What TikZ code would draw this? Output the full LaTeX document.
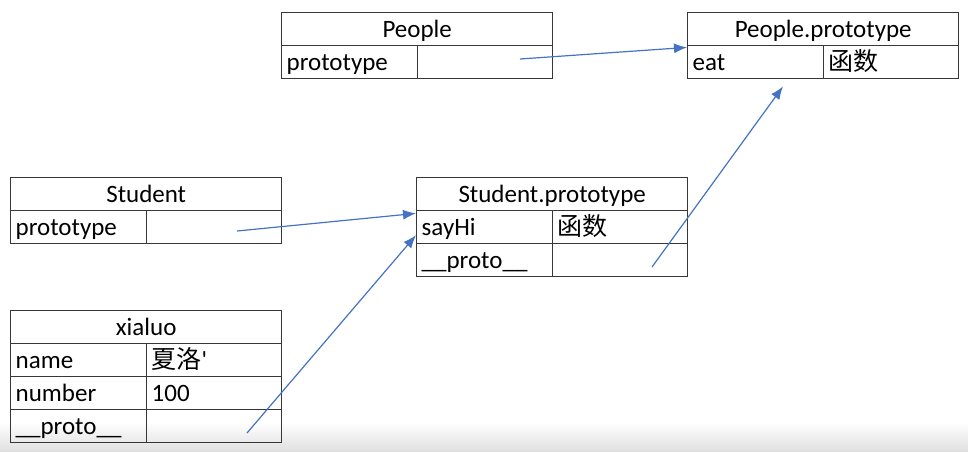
\documentclass[tikz,border=0pt]{standalone}
\usepackage{fontspec}
\setmainfont{Carlito}
\newfontfamily\cjk{Noto Sans CJK SC}
\usetikzlibrary{arrows.meta}
\definecolor{linegray}{RGB}{55,55,55}
\definecolor{ptrblue}{RGB}{68,114,196}
\begin{document}
\begin{tikzpicture}[x=1pt,y=-1pt,
	cell/.style={draw=linegray,line width=1.4pt,anchor=north west,minimum height=33pt,
		inner xsep=5pt,inner ysep=0pt,text height=19pt,text depth=3pt,
		font=\fontsize{25}{29}\selectfont},
	hdr/.style={cell,minimum width=271pt},
	key/.style={cell,text width=126pt,align=left},
	val/.style={cell,text width=125pt,align=left},
	ptr/.style={ptrblue,line width=1.2pt,-{Latex[length=13pt,width=10pt]}}]
\useasboundingbox (0,0) rectangle (968,451);
\shade[top color=white,bottom color=black!12] (0,422) rectangle (968,451);
% People
\node[hdr] (phdr) at (281,12) {People};
\node[key] (pk1) at (281,45) {prototype};
\node[val] (pv1) at (417,45) {};
% People.prototype
\node[hdr] (pphdr) at (687,12) {People.prototype};
\node[key] (ppk1) at (687,45) {eat};
\node[val] (ppv1) at (823,45) {\cjk 函数};
% Student
\node[hdr] (shdr) at (10,177) {Student};
\node[key] (sk1) at (10,210) {prototype};
\node[val] (sv1) at (146,210) {};
% Student.prototype
\node[hdr] (sphdr) at (416,177) {Student.prototype};
\node[key] (spk1) at (416,210) {sayHi};
\node[val] (spv1) at (552,210) {\cjk 函数};
\node[key] (spk2) at (416,243) {\_\_proto\_\_};
\node[val] (spv2) at (552,243) {};
% xialuo
\node[hdr] (xhdr) at (10,310) {xialuo};
\node[key] (xk1) at (10,343) {name};
\node[val] (xv1) at (146,343) {{\cjk 夏洛}\textquotesingle};
\node[key] (xk2) at (10,376) {number};
\node[val] (xv2) at (146,376) {100};
\node[key] (xk3) at (10,409) {\_\_proto\_\_};
\node[val] (xv3) at (146,409) {};
% pointers
\coordinate (pfrom) at (520,59);
\coordinate (sfrom) at (237,231);
\coordinate (xfrom) at (247,433);
\coordinate (spfrom) at (652,267);
\coordinate (ppto) at ([xshift=96pt,yshift=-7pt]ppk1.south west);
\draw[ptr] (pfrom) -- ([yshift=-1pt]pphdr.south west);
\draw[ptr] (sfrom) -- ([yshift=-2pt]sphdr.south west);
\draw[ptr] (xfrom) -- ([yshift=-8pt]spk1.west);
\draw[ptr] (spfrom) -- (ppto);
\end{tikzpicture}
\end{document}
